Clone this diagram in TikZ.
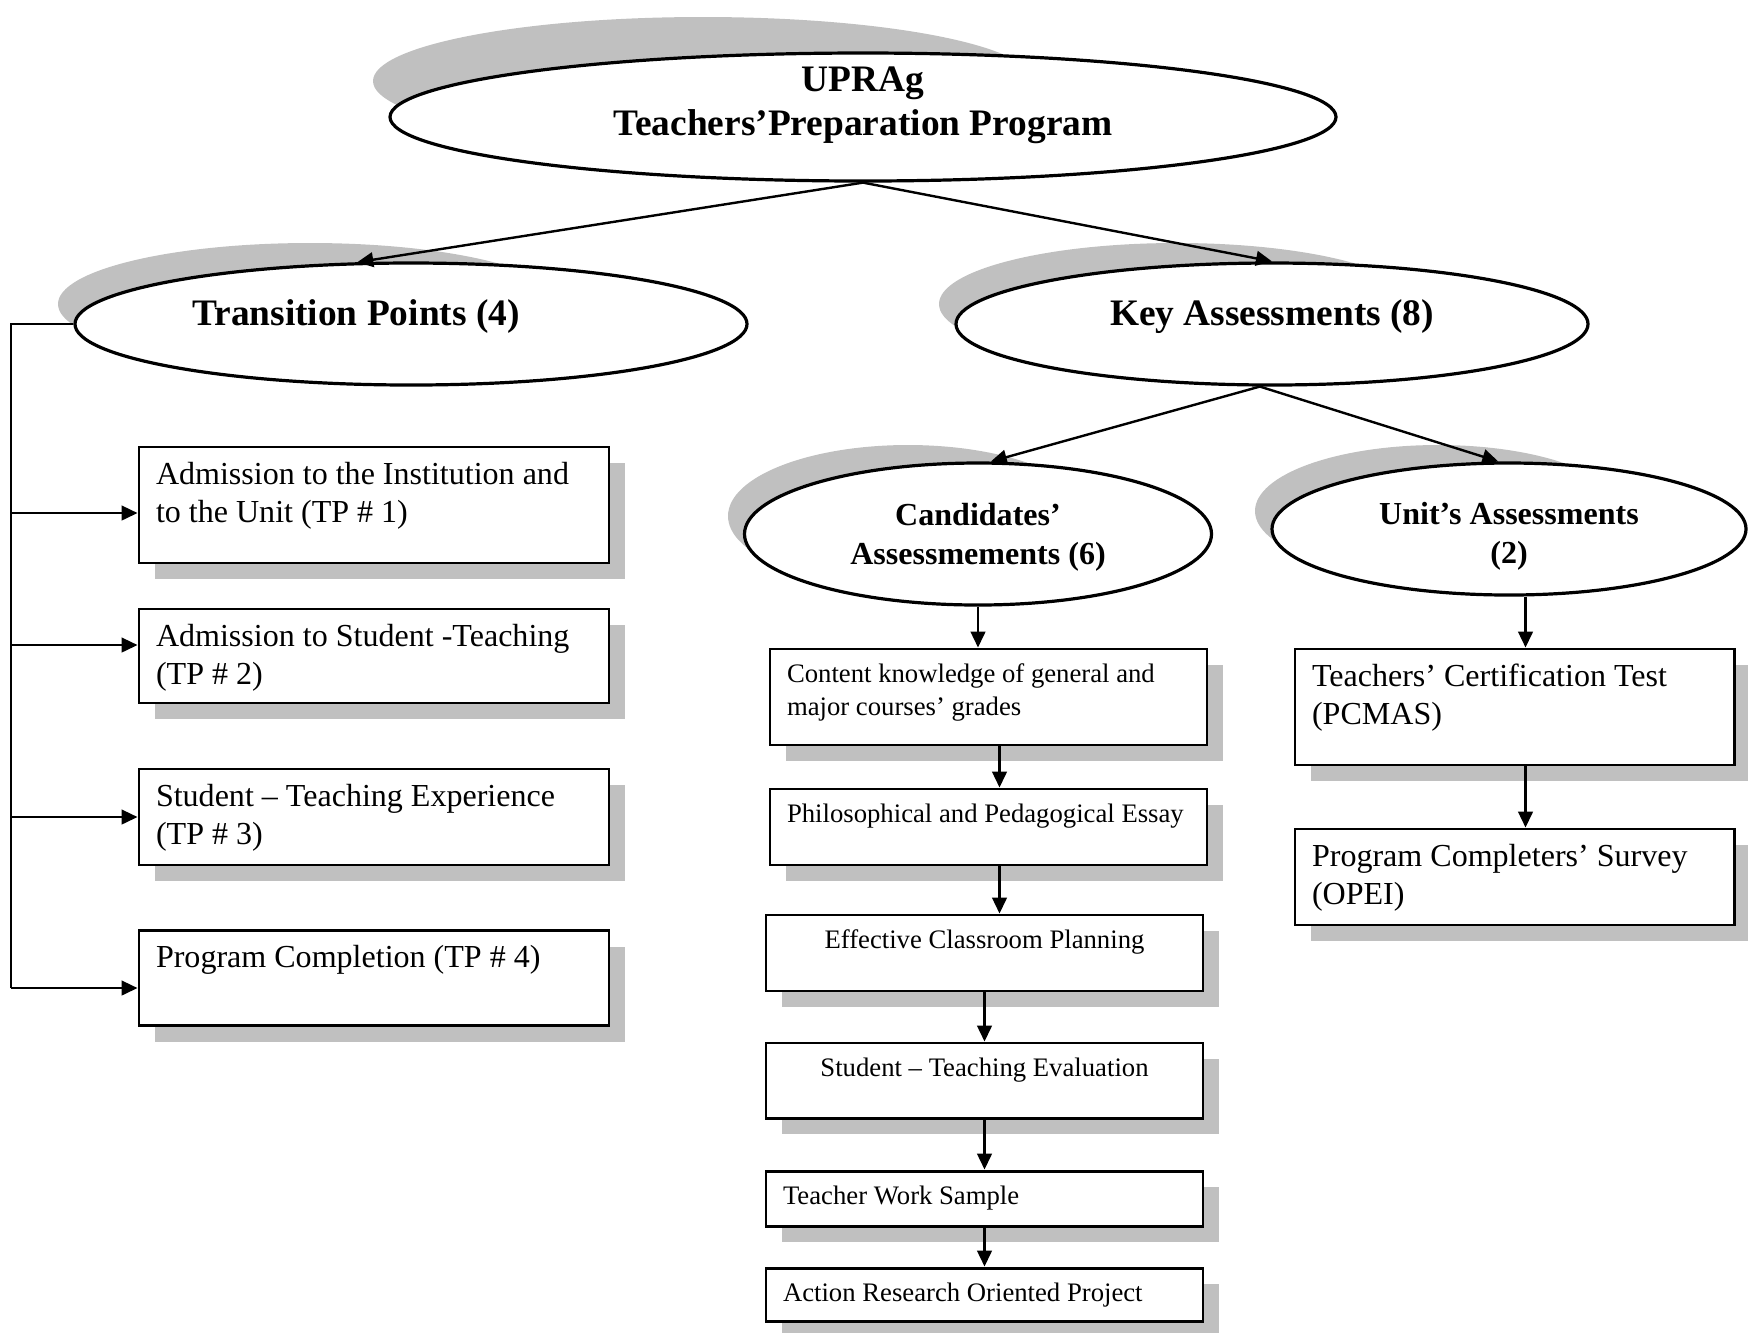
\documentclass[tikz,border=0pt,12pt]{standalone}
\usepackage{fontspec}
\setmainfont{Liberation Serif}
\usepackage{tikz}
\usetikzlibrary{arrows.meta,shapes.geometric,shadows}
\definecolor{tpShadow}{HTML}{C0C0C0}
\newlength{\pxu}
\setlength{\pxu}{0.3745pt}
\newcommand{\ovaltext}[3]{\raisebox{#2\pxu}[\height][\depth]{\kern#1\pxu\begin{tabular}{@{}c@{}}#3\end{tabular}\kern-#1\pxu}}
\newcommand{\boxtext}[3]{\parbox[c][#2\pxu][t]{#1\pxu}{\raggedright\strut#3}}
\tikzset{
  tp diagram/.style={x=\pxu, y=-\pxu, font=\fontsize{12}{14.5}\selectfont},
  tp oval/.style={ellipse, draw, line width=1.2pt, fill=white, inner sep=0pt,
    font=\fontsize{14}{16.5}\selectfont\bfseries},
  tp small oval/.style={tp oval, font=\fontsize{12}{14.5}\selectfont\bfseries},
  tp oval shadow/.style={fill=tpShadow},
  tp box/.style={rectangle, draw, line width=1.1pt, fill=white,
    inner xsep=17\pxu, inner ysep=10\pxu,
    drop shadow={fill=tpShadow, opacity=1, shadow xshift=16\pxu, shadow yshift=-16\pxu}},
  tp small box/.style={tp box, font=\fontsize{10}{12.4}\selectfont},
  tp arrow/.style={-{Triangle[length=6pt, width=5.5pt]}, line width=0.9pt},
  tp line/.style={line width=0.9pt}
}
\begin{document}
\begin{tikzpicture}[tp diagram]
\useasboundingbox (0,0) rectangle (1748,1332);
\fill[tp oval shadow] (703,81) ellipse [x radius=330\pxu, y radius=64\pxu];
\fill[tp oval shadow] (310,304) ellipse [x radius=252\pxu, y radius=61\pxu];
\fill[tp oval shadow] (1177,304) ellipse [x radius=238\pxu, y radius=61\pxu];
\fill[tp oval shadow] (908,516) ellipse [x radius=180\pxu, y radius=71\pxu];
\fill[tp oval shadow] (1438,511) ellipse [x radius=183\pxu, y radius=66\pxu];
\node[tp oval, minimum width=946\pxu, minimum height=128\pxu] (prog) at (863,117)
  {\ovaltext{0}{12}{UPRAg\\Teachers’Preparation Program}};
\node[tp oval, minimum width=672\pxu, minimum height=122\pxu] (tp) at (411,324)
  {\ovaltext{-55}{7}{Transition Points (4)}};
\node[tp oval, minimum width=632\pxu, minimum height=122\pxu] (ka) at (1272,324)
  {\ovaltext{0}{7}{Key Assessments (8)}};
\node[tp small oval, minimum width=467\pxu, minimum height=142\pxu] (cand) at (978,534)
  {\ovaltext{0}{-3}{Candidates’\\Assessmements (6)}};
\node[tp small oval, minimum width=474\pxu, minimum height=132\pxu] (unit) at (1509,529)
  {\ovaltext{0}{-7}{Unit’s Assessments\\(2)}};
\node[tp box] (tp1) at (374,505) {\boxtext{436}{96}{Admission to the Institution and\\to the Unit (TP \# 1)}};
\node[tp box] (tp2) at (374,656) {\boxtext{436}{74}{Admission to Student -Teaching\\(TP \# 2)}};
\node[tp box] (tp3) at (374,817) {\boxtext{436}{76}{Student – Teaching Experience\\(TP \# 3)}};
\node[tp box] (tp4) at (374,978) {\boxtext{436}{75}{Program Completion (TP \# 4)}};
\node[tp small box] (m1) at (988.5,697) {\boxtext{403}{76}{Content knowledge of general and\\major courses’ grades}};
\node[tp small box] (m2) at (988.5,827) {\boxtext{403}{56}{Philosophical and Pedagogical Essay}};
\node[tp small box] (m3) at (984.5,953) {\boxtext{403}{56}{\centering Effective Classroom Planning}};
\node[tp small box] (m4) at (984.5,1080.5) {\boxtext{403}{55}{\centering Student – Teaching Evaluation}};
\node[tp small box] (m5) at (984.5,1198.5) {\boxtext{403}{35}{Teacher Work Sample}};
\node[tp small box] (m6) at (984.5,1294.5) {\boxtext{403}{33}{Action Research Oriented Project}};
\node[tp box] (r1) at (1514.5,707) {\boxtext{405}{96}{Teachers’ Certification Test\\(PCMAS)}};
\node[tp box] (r2) at (1514.5,877) {\boxtext{405}{76}{Program Completers’ Survey\\(OPEI)}};
\coordinate (spine) at (11,324);
\coordinate (in1) at ([yshift=-8\pxu]tp1.west);
\coordinate (in2) at ([yshift=11\pxu]tp2.west);
\coordinate (in3) at (tp3.west);
\coordinate (in4) at ([yshift=-10\pxu]tp4.west);
\coordinate (m12) at ([xshift=11\pxu]m1.south);
\coordinate (m23) at ([xshift=11\pxu]m2.south);
\coordinate (r01) at ([xshift=11\pxu]r1.north);
\coordinate (r12) at ([xshift=11\pxu]r1.south);
\draw[tp arrow] (prog.south) -- (tp.131);
\draw[tp arrow] (prog.south) -- (ka.north);
\draw[tp arrow] (ka.259) -- (cand.80);
\draw[tp arrow] (ka.259) -- (unit.99);
\draw[tp line] (tp.west) -- (spine) -- (spine |- in4);
\draw[tp arrow] (spine |- in1) -- (in1);
\draw[tp arrow] (spine |- in2) -- (in2);
\draw[tp arrow] (spine |- in3) -- (in3);
\draw[tp arrow] (spine |- in4) -- (in4);
\draw[tp arrow] (cand.south) -- (cand.south |- m1.north);
\draw[tp arrow] (m12) -- (m12 |- m2.north);
\draw[tp arrow] (m23) -- (m23 |- m3.north);
\draw[tp arrow] (m3.south) -- (m4.north);
\draw[tp arrow] (m4.south) -- (m5.north);
\draw[tp arrow] (m5.south) -- (m6.north);
\draw[tp arrow] (r01 |- unit.south) -- (r01);
\draw[tp arrow] (r12) -- (r12 |- r2.north);
\end{tikzpicture}
\end{document}
